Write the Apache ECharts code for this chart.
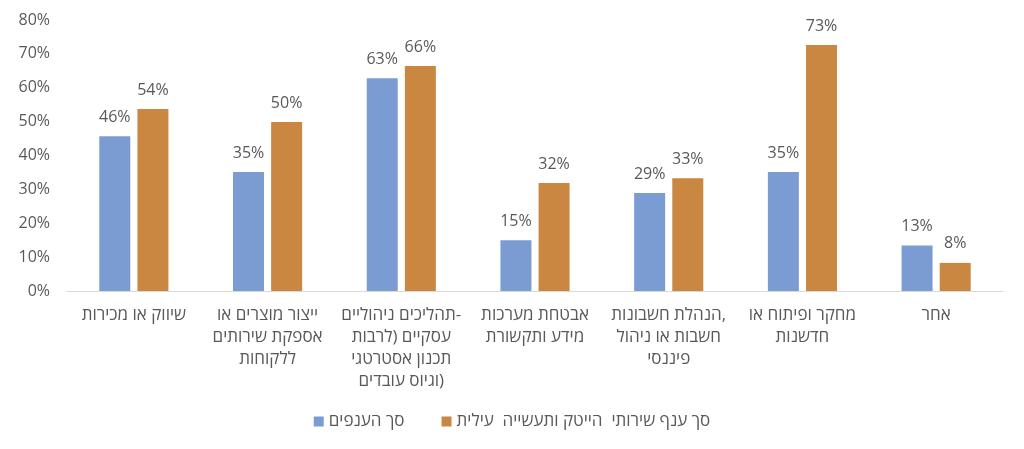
<!DOCTYPE html>
<html>
<head>
<meta charset="utf-8">
<script src="https://cdn.jsdelivr.net/npm/echarts@6/dist/echarts.min.js"></script>
<style>
html,body{margin:0;padding:0;background:#fff;}
#chart{width:1024px;height:449px;}
</style>
</head>
<body>
<div id="chart"></div>
<script>
const categories = [
  "שיווק או מכירות",
  "ייצור מוצרים או\nאספקת שירותים\nללקוחות",
  "תהליכים ניהוליים-\nעסקיים (לרבות\nתכנון אסטרטגי\nוגיוס עובדים)",
  "אבטחת מערכות\nמידע ותקשורת",
  "הנהלת חשבונות,\nחשבות או ניהול\nפיננסי",
  "מחקר ופיתוח או\nחדשנות",
  "אחר"
];
const seriesNames = ["סך הענפים", "סך ענף שירותי  הייטק ותעשייה  עילית"];
const allBranches = [45.7, 35.1, 62.8, 15.0, 28.9, 35.1, 13.4];
const hiTech = [53.7, 49.9, 66.4, 31.9, 33.3, 72.6, 8.3];
const yTicks = [0, 10, 20, 30, 40, 50, 60, 70, 80];

const FONT = "'Open Sans', 'DejaVu Sans', sans-serif";
const GRAY = "#595959";

const chart = echarts.init(document.getElementById('chart'), null, {renderer: 'canvas'});
const labelOpt = {
  show: true, position: 'top', distance: 11,
  color: GRAY, fontSize: 16, fontFamily: FONT,
  formatter: p => Math.round(p.value) + '%'
};
chart.setOption({
  animation: false,
  backgroundColor: '#fff',
  grid: {left: 67, right: 21, top: 20, bottom: 158, containLabel: false},
  legend: {
    bottom: 14, left: 'center',
    itemWidth: 10, itemHeight: 10, itemGap: 37,
    icon: 'rect',
    textStyle: {color: GRAY, fontSize: 17, fontFamily: FONT},
    data: seriesNames
  },
  xAxis: {
    type: 'category', data: categories,
    axisLine: {show: true, lineStyle: {color: '#d9d9d9', width: 1}},
    axisTick: {show: false},
    axisLabel: {interval: 0, margin: 13, color: GRAY, fontSize: 17, lineHeight: 22, fontFamily: FONT}
  },
  yAxis: {
    type: 'value', min: yTicks[0], max: yTicks[yTicks.length - 1], interval: 10,
    splitLine: {show: false},
    axisLine: {show: false}, axisTick: {show: false},
    axisLabel: {margin: 17, color: GRAY, fontSize: 16, fontFamily: FONT, formatter: v => v + '%'}
  },
  series: [
    {name: seriesNames[0], type: 'bar', data: allBranches, barWidth: 31, barGap: '23%',
     itemStyle: {color: '#7b9cd3'}, label: labelOpt},
    {name: seriesNames[1], type: 'bar', data: hiTech, barWidth: 31,
     itemStyle: {color: '#c98742'}, label: labelOpt}
  ]
});
</script>
</body>
</html>
